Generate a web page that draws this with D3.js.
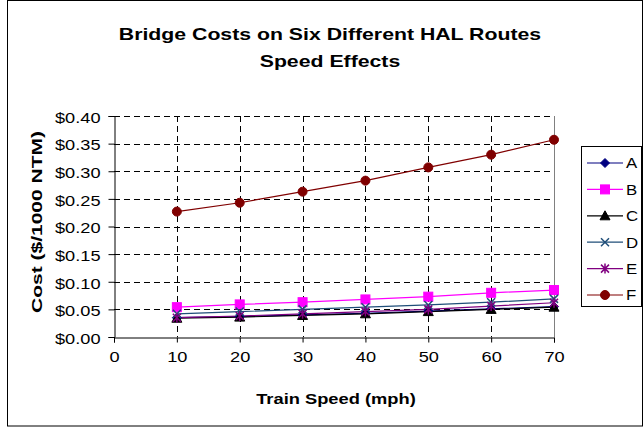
<!DOCTYPE html>
<html>
<head>
<meta charset="utf-8">
<script src="https://cdn.jsdelivr.net/npm/d3@7"></script>
<style>
  html, body { margin: 0; padding: 0; background: #fff; }
  svg { display: block; font-family: Arial, "Liberation Sans", sans-serif; }
</style>
</head>
<body>
<svg id="chart" width="644" height="427"></svg>
<script>
// Train speeds (mph)
const speeds = [10, 20, 30, 40, 50, 60, 70];

// Bridge cost per route ($/1000 NTM)
const routeA = [0.035, 0.037, 0.040, 0.043, 0.047, 0.051, 0.055];
const routeB = [0.054, 0.059, 0.063, 0.068, 0.073, 0.080, 0.085];
const routeC = [0.034, 0.036, 0.039, 0.042, 0.046, 0.050, 0.054];
const routeD = [0.042, 0.046, 0.050, 0.054, 0.058, 0.063, 0.069];
const routeE = [0.035, 0.038, 0.042, 0.046, 0.050, 0.056, 0.062];
const routeF = [0.227, 0.243, 0.263, 0.283, 0.307, 0.330, 0.357];

const routeNames = ["A", "B", "C", "D", "E", "F"];
const xTicks = [0, 10, 20, 30, 40, 50, 60, 70];
const yTicks = [0, 0.05, 0.10, 0.15, 0.20, 0.25, 0.30, 0.35, 0.40];

const series = [
  { name: "A", values: routeA, color: "#000080", marker: "diamond" },
  { name: "B", values: routeB, color: "#ff00ff", marker: "square" },
  { name: "C", values: routeC, color: "#000000", marker: "triangle" },
  { name: "D", values: routeD, color: "#1f4e79", marker: "x" },
  { name: "E", values: routeE, color: "#800080", marker: "star" },
  { name: "F", values: routeF, color: "#800000", marker: "circle" }
];

const svg = d3.select("#chart");

// Widen a text element horizontally (the chart uses a broad face)
function widen(sel, k) {
  sel.each(function () {
    const w = this.getComputedTextLength();
    d3.select(this).attr("textLength", w * k).attr("lengthAdjust", "spacingAndGlyphs");
  });
  return sel;
}

// Outer chart frame
svg.append("rect")
  .attr("x", 7.5).attr("y", 0.5).attr("width", 635).attr("height", 425.5)
  .attr("fill", "#fff").attr("stroke", "#000").attr("stroke-width", 1);

const plot = { left: 114, right: 554, top: 116, bottom: 337 };

const x = d3.scaleLinear().domain([0, 70]).range([plot.left, plot.right]);
const y = d3.scaleLinear().domain([0, 0.40]).range([plot.bottom, plot.top]);

// Title
const titleLines = ["Bridge Costs on Six Different HAL Routes", "Speed Effects"];
svg.selectAll("text.title").data(titleLines).join("text")
  .attr("class", "title")
  .attr("x", 330).attr("y", (d, i) => 40 + i * 27)
  .attr("text-anchor", "middle").attr("font-weight", "bold")
  .attr("font-size", 17).attr("fill", "#000")
  .text(d => d)
  .call(widen, 1.25);

// Gridlines
const grid = svg.append("g").attr("stroke", "#000").attr("stroke-width", 1)
  .attr("stroke-dasharray", "6,4");
grid.selectAll("line.h").data(yTicks.filter(d => d > 0)).join("line")
  .attr("class", "h")
  .attr("x1", plot.left).attr("x2", plot.right)
  .attr("y1", d => Math.round(y(d)) + 0.5).attr("y2", d => Math.round(y(d)) + 0.5);
grid.selectAll("line.v").data(xTicks.filter(d => d > 0 && d < 70)).join("line")
  .attr("class", "v")
  .attr("y1", plot.top).attr("y2", plot.bottom)
  .attr("x1", d => Math.round(x(d)) + 0.5).attr("x2", d => Math.round(x(d)) + 0.5);

// Right edge of plot area
svg.append("line")
  .attr("x1", plot.right + 0.5).attr("x2", plot.right + 0.5)
  .attr("y1", plot.top).attr("y2", plot.bottom)
  .attr("stroke", "#808080").attr("stroke-width", 1);

// Axes
const yAxis = d3.axisLeft(y).tickValues(yTicks)
  .tickFormat(d => "$" + d.toFixed(2)).tickSize(6).tickPadding(8);
const gy = svg.append("g").attr("transform", `translate(${plot.left + 0.5},0)`).call(yAxis);

const xAxis = d3.axisBottom(x).tickValues(xTicks).tickFormat(d3.format("d"))
  .tickSize(5).tickPadding(9);
const gx = svg.append("g").attr("transform", `translate(0,${plot.bottom + 0.5})`).call(xAxis);

[gy, gx].forEach(g => {
  g.select(".domain").attr("stroke", "#000");
  g.selectAll(".tick line").attr("stroke", "#000");
  g.selectAll(".tick text").attr("font-size", 14).attr("fill", "#000")
    .attr("font-family", "Arial, 'Liberation Sans', sans-serif");
});
gy.selectAll(".tick text").attr("dy", "0.45em");
gx.selectAll(".tick text").attr("dy", "0.75em");
gy.selectAll(".tick text").call(widen, 1.3);
gx.selectAll(".tick text").call(widen, 1.3);

// Axis titles
svg.append("text")
  .attr("x", 336).attr("y", 404)
  .attr("text-anchor", "middle").attr("font-weight", "bold").attr("font-size", 15)
  .text("Train Speed (mph)")
  .call(widen, 1.22);
svg.append("text")
  .attr("transform", `translate(42,222) rotate(-90)`)
  .attr("text-anchor", "middle").attr("font-weight", "bold").attr("font-size", 14)
  .text("Cost ($/1000 NTM)")
  .call(widen, 1.5);

// Marker drawing
function drawMarker(g, type, color) {
  switch (type) {
    case "diamond":
      g.append("path").attr("d", "M0,-4.5L4.5,0L0,4.5L-4.5,0Z").attr("fill", color).attr("stroke", color);
      break;
    case "square":
      g.append("rect").attr("x", -4.5).attr("y", -4.5).attr("width", 9).attr("height", 9)
        .attr("fill", color).attr("stroke", color);
      break;
    case "triangle":
      g.append("path").attr("d", "M0,-5L5,4L-5,4Z").attr("fill", color).attr("stroke", color);
      break;
    case "x":
      g.append("path").attr("d", "M-4,-4L4,4M-4,4L4,-4").attr("stroke", color)
        .attr("stroke-width", 1.5).attr("fill", "none");
      break;
    case "star":
      g.append("path").attr("d", "M-4,-4L4,4M-4,4L4,-4M0,-5L0,5").attr("stroke", color)
        .attr("stroke-width", 1.5).attr("fill", "none");
      break;
    case "circle":
      g.append("circle").attr("r", 4.5).attr("fill", color).attr("stroke", color);
      break;
  }
}

const line = d3.line().x((d, i) => x(speeds[i])).y(d => y(d));

// Series lines and markers
series.forEach(s => {
  svg.append("path").datum(s.values)
    .attr("d", line).attr("fill", "none")
    .attr("stroke", s.color).attr("stroke-width", 1.2);
});
series.forEach(s => {
  s.values.forEach((v, i) => {
    const g = svg.append("g").attr("transform", `translate(${x(speeds[i])},${y(v)})`);
    drawMarker(g, s.marker, s.color);
  });
});

// Legend
const legend = svg.append("g");
legend.append("rect")
  .attr("x", 581.5).attr("y", 146.5).attr("width", 60).attr("height", 160)
  .attr("fill", "#fff").attr("stroke", "#000").attr("stroke-width", 1);
const legendY = d3.scalePoint().domain(routeNames).range([163, 295]);
series.forEach(s => {
  const cy = legendY(s.name);
  legend.append("line").attr("x1", 587).attr("x2", 623)
    .attr("y1", cy).attr("y2", cy).attr("stroke", s.color).attr("stroke-width", 1.2);
  const g = legend.append("g").attr("transform", `translate(605,${cy})`);
  drawMarker(g, s.marker, s.color);
  legend.append("text").attr("x", 626).attr("y", cy).attr("dy", "0.38em")
    .attr("font-size", 14).text(s.name)
    .call(widen, 1.2);
});
</script>
</body>
</html>
